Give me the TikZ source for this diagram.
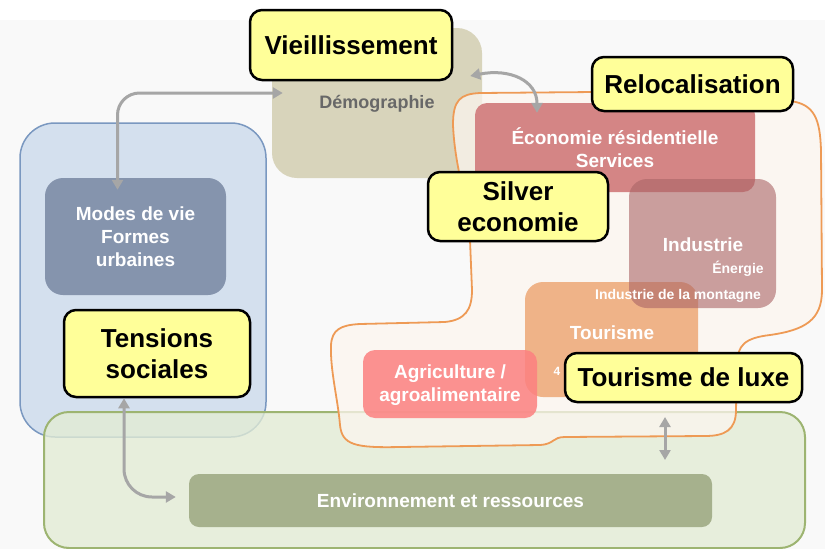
\documentclass[tikz,border=0pt]{standalone}
\usepackage{fontspec}
\setmainfont{Liberation Sans}
\usetikzlibrary{arrows.meta}
\definecolor{bggray}{HTML}{F9F9F9}
\definecolor{bluefill}{HTML}{D4E0EE}
\definecolor{bluedraw}{HTML}{7A98C0}
\definecolor{modesfill}{HTML}{8594AD}
\definecolor{demofill}{HTML}{D8D4BB}
\definecolor{demotext}{HTML}{686868}
\definecolor{greenfill}{HTML}{E3ECD4}
\definecolor{greendraw}{HTML}{9DB471}
\definecolor{envfill}{HTML}{A6B18D}
\definecolor{blobfill}{HTML}{FCF5EF}
\definecolor{blobdraw}{HTML}{EE9A55}
\definecolor{econfill}{HTML}{D48585}
\definecolor{indfill}{HTML}{AA6466}
\definecolor{tourfill}{HTML}{EFB388}
\definecolor{agrifill}{HTML}{FC8080}
\definecolor{yellowfill}{HTML}{FFFF99}
\definecolor{arrowgray}{HTML}{A6A6A6}
\tikzset{
  zone/.style={rectangle, inner sep=0pt},
  whitetxt/.style={text=white, font=\fontsize{19}{23}\selectfont\bfseries, align=center},
  smalltxt/.style={text=white, font=\fontsize{14}{16}\selectfont\bfseries},
  ybox/.style={rectangle, rounded corners=12pt, draw=black, line width=2.5pt,
    fill=yellowfill, inner sep=0pt, align=center,
    font=\fontsize{26}{31}\selectfont\bfseries},
  conn/.style={draw=arrowgray, line width=3pt,
    {Triangle[length=10pt,width=11pt]}-{Triangle[length=10pt,width=11pt]}}
}
\begin{document}
\begin{tikzpicture}[x=1pt,y=-1pt]
\useasboundingbox (0,0) rectangle (825,549);
\fill[white] (0,0) rectangle (825,549);
\fill[bggray] (0,20) rectangle (825,549);

% left blue zone
\node[zone, rounded corners=35pt, fill=bluefill, draw=bluedraw, line width=1.5pt,
  minimum width=246pt, minimum height=314pt] (blue) at (143,280) {};
\node[zone, rounded corners=18pt, fill=modesfill, minimum width=181pt, minimum height=117pt,
  whitetxt] (modes) at (135.5,236.5) {Modes de vie\\Formes\\urbaines};

% demography
\node[zone, rounded corners=25pt, fill=demofill, minimum width=210pt, minimum height=150pt] (demo) at (377,103) {};
\node[text=demotext, font=\fontsize{18}{20}\selectfont\bfseries] (demotxt) at (377,104) {Démographie};

% green zone
\node[zone, rounded corners=25pt, fill=greenfill, fill opacity=0.78, draw=greendraw, line width=2pt,
  minimum width=761pt, minimum height=136pt] (green) at (424.5,480) {};

% relocalisation blob
\path[fill=blobfill, fill opacity=0.75, draw=blobdraw, line width=1.8pt]
  (453,125)
  .. controls (453,100) and (460,94) .. (480,93)
  -- (595,92)
  -- (790,101)
  .. controls (815,104) and (820,120) .. (821,150)
  -- (822,290)
  .. controls (822,320) and (805,330) .. (770,335)
  .. controls (745,338) and (737,345) .. (737,365)
  -- (736,410)
  .. controls (736,430) and (725,436) .. (705,436)
  -- (565,437)
  .. controls (552,437) and (555,444) .. (540,445)
  -- (400,447)
  .. controls (355,448) and (342,445) .. (340,425)
  .. controls (338,400) and (330,370) .. (331,345)
  .. controls (332,330) and (340,325) .. (360,324)
  -- (445,322)
  .. controls (465,320) and (472,310) .. (472,290)
  -- (470,240)
  .. controls (468,200) and (455,170) .. cycle;

% environment
\node[zone, rounded corners=10pt, fill=envfill, minimum width=523pt, minimum height=53pt,
  whitetxt] (env) at (450.5,500.5) {Environnement et ressources};

% sectors
\node[zone, rounded corners=12pt, fill=econfill, minimum width=280pt, minimum height=89pt,
  whitetxt] (econ) at (615,147.5) {Économie résidentielle\\Services};
\node[zone, rounded corners=18pt, fill=tourfill, minimum width=173pt, minimum height=115pt] (tour) at (611.5,339.5) {};
\node[whitetxt] (tourtxt) at (612,333) {Tourisme};
\node[smalltxt, font=\fontsize{12}{14}\selectfont\bfseries] (tournum) at (557,371) {4};
\node[zone, rounded corners=18pt, fill=indfill, fill opacity=0.6, minimum width=147pt, minimum height=129pt] (indus) at (702.5,243.5) {};
\node[whitetxt] (industxt) at (703,245) {Industrie};
\node[smalltxt] (energie) at (738,269) {Énergie};
\node[smalltxt] (montagne) at (678,296) {Industrie de la montagne};
\node[zone, rounded corners=12pt, fill=agrifill, fill opacity=0.85, minimum width=174pt, minimum height=68pt] (agri) at (450,384) {};
\node[whitetxt] (agritxt) at (450,385) {Agriculture /\\agroalimentaire};

% yellow labels
\node[ybox, minimum width=202pt, minimum height=70pt] (vieil) at (351,45) {Vieillissement};
\node[ybox, minimum width=201pt, minimum height=54pt] (reloc) at (692.5,84) {Relocalisation};
\node[ybox, minimum width=180pt, minimum height=69pt] (silver) at (518,206.5) {Silver\\economie};
\node[ybox, minimum width=186pt, minimum height=87pt] (tens) at (157,353.5) {Tensions\\sociales};
\node[ybox, minimum width=237pt, minimum height=49pt] (luxe) at (683.5,377.5) {Tourisme de luxe};

% connectors
\draw[conn, rounded corners=22pt] ([xshift=-18pt,yshift=-12pt]modes.north) |- ([xshift=11pt,yshift=10pt]demo.west);
\draw[conn] ([xshift=-12pt,yshift=27pt]demo.east) .. controls +(40,-8) and +(0,-32) .. ([xshift=-78pt,yshift=-10pt]econ.north);
\draw[conn, rounded corners=28pt] ([xshift=-33pt]tens.south) |- ([xshift=-13pt,yshift=3.5pt]env.west);
\coordinate (dtop) at (665,417);
\coordinate (dbot) at (665,460);
\draw[conn] (dtop) -- (dbot);
\end{tikzpicture}
\end{document}
